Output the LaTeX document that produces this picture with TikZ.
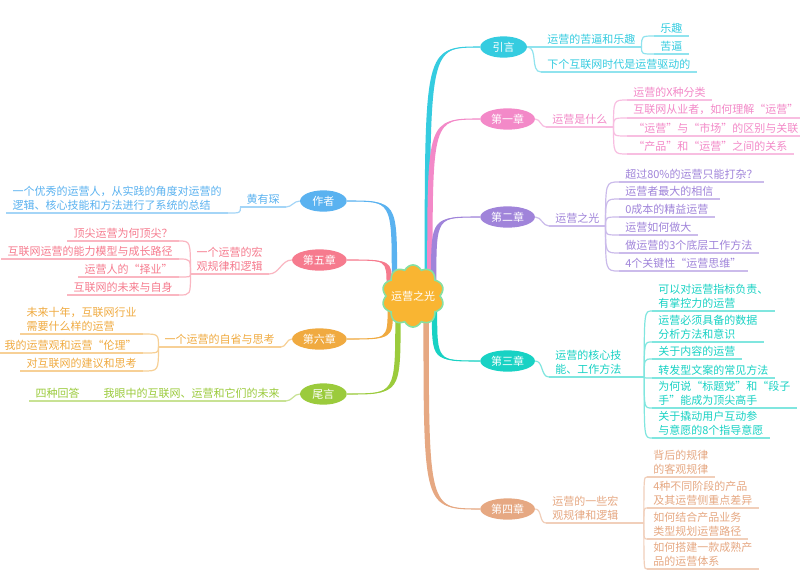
\documentclass[tikz,border=0pt]{standalone}
\usepackage{fontspec}
\setmainfont{Noto Sans CJK SC}
\newfontfamily\fullq[CharacterWidth=Full]{Noto Sans CJK SC}
\usetikzlibrary{shapes.geometric,calc,backgrounds}
\definecolor{coreC}{HTML}{F9B532}
\definecolor{rimC}{HTML}{86E0A2}
\definecolor{introC}{HTML}{35CCE0}
\definecolor{ch1C}{HTML}{F389C8}
\definecolor{ch2C}{HTML}{A084DA}
\definecolor{ch3C}{HTML}{18D2C4}
\definecolor{ch4C}{HTML}{E6A882}
\definecolor{authC}{HTML}{5AB2F0}
\definecolor{ch5C}{HTML}{F67B8E}
\definecolor{ch6C}{HTML}{F0AA40}
\definecolor{endC}{HTML}{9BCB3C}
\newcommand{\qt}[1]{{\fullq “}#1{\fullq ”}}
% tapered branch from the centre: colour, start, end
\newcommand{\bough}[3]{%
  \coordinate (bk) at (#2 |- #3);
  \fill[#1] ($(#2)!2pt!90:(bk)$) .. controls ($(bk)!2pt!-90:(#2)$) .. (#3)
    .. controls ($(bk)!2pt!90:(#2)$) .. ($(#2)!2pt!-90:(bk)$) -- cycle;
  \draw[#1, line width=0.8pt] (#2) .. controls (bk) .. (#3);
}
\tikzset{
  topic/.style={ellipse, fill=#1, text=white, minimum width=41pt, minimum height=16pt, inner sep=0pt},
  rleaf/.style={text=#1, anchor=south west, align=left, inner xsep=4.5pt, inner ysep=2pt},
  lleaf/.style={text=#1, anchor=south east, align=left, inner xsep=4.5pt, inner ysep=2pt},
  twig/.style={draw=#1!55, line width=0.9pt},
}

\begin{document}
\begin{tikzpicture}[x=0.75pt, y=-0.75pt, font=\fontsize{8.25}{10}\selectfont]
\useasboundingbox (0,0) rectangle (800,586);

% centre and main topics
\node[circle, minimum size=39pt, inner sep=0pt, text=white] (core) at (413,296) {运营之光};
\node[topic=introC, minimum width=35pt, anchor=west] (intro) at (480,47) {引言};
\node[topic=ch1C, anchor=west] (ch1) at (480,119) {第一章};
\node[topic=ch2C, anchor=west] (ch2) at (480,217) {第二章};
\node[topic=ch3C, anchor=west] (ch3) at (480,361) {第三章};
\node[topic=ch4C, anchor=west] (ch4) at (480,509) {第四章};
\node[topic=authC, minimum width=35pt, anchor=east] (auth) at (347,201) {作者};
\node[topic=ch5C, anchor=east] (ch5) at (347,260) {第五章};
\node[topic=ch6C, anchor=east] (ch6) at (347,339) {第六章};
\node[topic=endC, minimum width=35pt, anchor=east] (tail) at (347,394) {尾言};

% 引言
\node[rleaf=introC] (a1) at (541,47) {运营的苦逼和乐趣};
\node[rleaf=introC] (a11) at (654,36) {乐趣};
\node[rleaf=introC] (a12) at (654,54) {苦逼};
\node[rleaf=introC] (a2) at (541,72) {下个互联网时代是运营驱动的};
\draw[twig=introC] (intro.east) to[out=0,in=180] (a1.south west);
\draw[twig=introC] (intro.east) to[out=0,in=180] (a2.south west);
\foreach \k in {a11,a12}
  \draw[twig=introC] (a1.south east) .. controls (a1.south east |- \k.south west) .. (\k.south west);
\foreach \k in {a1,a11,a12,a2}
  \draw[twig=introC] (\k.south west) -- (\k.south east);

% 第一章
\node[rleaf=ch1C] (b1) at (546,127) {运营是什么};
\node[rleaf=ch1C] (b11) at (627,100) {运营的X种分类};
\node[rleaf=ch1C] (b12) at (627,118) {互联网从业者，如何理解\qt{运营}};
\node[rleaf=ch1C] (b13) at (627,136) {\qt{运营}与\qt{市场}的区别与关联};
\node[rleaf=ch1C] (b14) at (627,154) {\qt{产品}和\qt{运营}之间的关系};
\draw[twig=ch1C] (ch1.east) to[out=0,in=180] (b1.south west);
\foreach \k in {b11,b12,b13,b14}
  \draw[twig=ch1C] (b1.south east) .. controls (b1.south east |- \k.south west) .. (\k.south west);
\foreach \k in {b1,b11,b12,b13,b14}
  \draw[twig=ch1C] (\k.south west) -- (\k.south east);

% 第二章
\node[rleaf=ch2C] (c1) at (549,226) {运营之光};
\node[rleaf=ch2C] (c11) at (619,182) {超过80\%的运营只能打杂？};
\node[rleaf=ch2C] (c12) at (619,199) {运营者最大的相信};
\node[rleaf=ch2C] (c13) at (619,217) {0成本的精益运营};
\node[rleaf=ch2C] (c14) at (619,235) {运营如何做大};
\node[rleaf=ch2C] (c15) at (619,253) {做运营的3个底层工作方法};
\node[rleaf=ch2C] (c16) at (619,271) {4个关键性\qt{运营思维}};
\draw[twig=ch2C] (ch2.east) to[out=0,in=180] (c1.south west);
\foreach \k in {c11,c12,c13,c14,c15,c16}
  \draw[twig=ch2C] (c1.south east) .. controls (c1.south east |- \k.south west) .. (\k.south west);
\foreach \k in {c1,c11,c12,c13,c14,c15,c16}
  \draw[twig=ch2C] (\k.south west) -- (\k.south east);

% 第三章
\node[rleaf=ch3C, text width=62pt] (d1) at (549,377) {运营的核心技\\能、工作方法};
\node[rleaf=ch3C] (d11) at (652,311) {可以对运营指标负责、\\有掌控力的运营};
\node[rleaf=ch3C] (d12) at (652,342) {运营必须具备的数据\\分析方法和意识};
\node[rleaf=ch3C] (d13) at (652,359) {关于内容的运营};
\node[rleaf=ch3C] (d14) at (652,378) {转发型文案的常见方法};
\node[rleaf=ch3C] (d15) at (652,408) {为何说\qt{标题党}和\qt{段子\\手}能成为顶尖高手};
\node[rleaf=ch3C] (d16) at (652,438) {关于撬动用户互动参\\与意愿的8个指导意愿};
\draw[twig=ch3C] (ch3.east) to[out=0,in=180] (d1.south west);
\foreach \k in {d11,d12,d13,d14,d15,d16}
  \draw[twig=ch3C] (d1.south east) .. controls (d1.south east |- \k.south west) .. (\k.south west);
\foreach \k in {d1,d11,d12,d13,d14,d15,d16}
  \draw[twig=ch3C] (\k.south west) -- (\k.south east);

% 第四章
\node[rleaf=ch4C, text width=64pt] (e1) at (546,523) {运营的一些宏\\观规律和逻辑};
\node[rleaf=ch4C] (e11) at (647,477) {背后的规律\\的客观规律};
\node[rleaf=ch4C] (e12) at (647,508) {4种不同阶段的产品\\及其运营侧重点差异};
\node[rleaf=ch4C] (e13) at (647,539) {如何结合产品业务\\类型规划运营路径};
\node[rleaf=ch4C] (e14) at (647,569) {如何搭建一款成熟产\\品的运营体系};
\draw[twig=ch4C] (ch4.east) to[out=0,in=180] (e1.south west);
\foreach \k in {e11,e12,e13,e14}
  \draw[twig=ch4C] (e1.south east) .. controls (e1.south east |- \k.south west) .. (\k.south west);
\foreach \k in {e1,e11,e12,e13,e14}
  \draw[twig=ch4C] (\k.south west) -- (\k.south east);

% 作者
\node[lleaf=authC] (f1) at (286,207) {黄有琛};
\node[lleaf=authC] (f11) at (228,213) {一个优秀的运营人，从实践的角度对运营的\\逻辑、核心技能和方法进行了系统的总结};
\draw[twig=authC] (auth.west) to[out=180,in=0] (f1.south east);
\draw[twig=authC] (f1.south west) .. controls (f1.south west |- f11.south east) .. (f11.south east);
\foreach \k in {f1,f11}
  \draw[twig=authC] (\k.south west) -- (\k.south east);

% 第五章
\node[lleaf=ch5C] (g1) at (269,274) {一个运营的宏\\观规律和逻辑};
\node[lleaf=ch5C] (g11) at (179,241) {顶尖运营为何顶尖？};
\node[lleaf=ch5C] (g12) at (179,259) {互联网运营的能力模型与成长路径};
\node[lleaf=ch5C] (g13) at (179,277) {运营人的\qt{择业}};
\node[lleaf=ch5C] (g14) at (179,295) {互联网的未来与自身};
\draw[twig=ch5C] (ch5.west) to[out=180,in=0] (g1.south east);
\foreach \k in {g11,g12,g13,g14}
  \draw[twig=ch5C] (g1.south west) .. controls (g1.south west |- \k.south east) .. (\k.south east);
\foreach \k in {g1,g11,g12,g13,g14}
  \draw[twig=ch5C] (\k.south west) -- (\k.south east);

% 第六章
\node[lleaf=ch6C] (h1) at (281,347) {一个运营的自省与思考};
\node[lleaf=ch6C] (h11) at (143,334) {未来十年，互联网行业\\需要什么样的运营};
\node[lleaf=ch6C] (h12) at (143,353) {我的运营观和运营\qt{伦理}};
\node[lleaf=ch6C] (h13) at (143,371) {对互联网的建议和思考};
\draw[twig=ch6C] (ch6.west) to[out=180,in=0] (h1.south east);
\foreach \k in {h11,h12,h13}
  \draw[twig=ch6C] (h1.south west) .. controls (h1.south west |- \k.south east) .. (\k.south east);
\foreach \k in {h1,h11,h12,h13}
  \draw[twig=ch6C] (\k.south west) -- (\k.south east);

% 尾言
\node[lleaf=endC] (i1) at (286,401) {我眼中的互联网、运营和它们的未来};
\node[lleaf=endC] (i11) at (86,401) {四种回答};
\draw[twig=endC] (tail.west) to[out=180,in=0] (i1.south east);
\draw[twig=endC] (i1.south west) -- (i11.south east);
\foreach \k in {i1,i11}
  \draw[twig=endC] (\k.south west) -- (\k.south east);

\begin{scope}[on background layer]
  \fill[white] (0,0) rectangle (800,586);
  \bough{introC}{core.57}{intro.west}
  \bough{ch1C}{core.50}{ch1.west}
  \bough{ch2C}{core.38}{ch2.west}
  \bough{ch3C}{core.-35}{ch3.west}
  \bough{ch4C}{core.-60}{ch4.west}
  \bough{authC}{core.135}{auth.east}
  \bough{ch5C}{core.155}{ch5.east}
  \bough{ch6C}{core.-150}{ch6.east}
  \bough{endC}{core.-125}{tail.east}
  \filldraw[fill=coreC, draw=rimC, line width=1.2pt, shift={(core.center)}]
    plot[domain=0:360, samples=181] ({(27+4*abs(sin(5*\x)))*cos(\x)}, {(27+4*abs(sin(5*\x)))*sin(\x)}) -- cycle;
\end{scope}
\end{tikzpicture}
\end{document}
